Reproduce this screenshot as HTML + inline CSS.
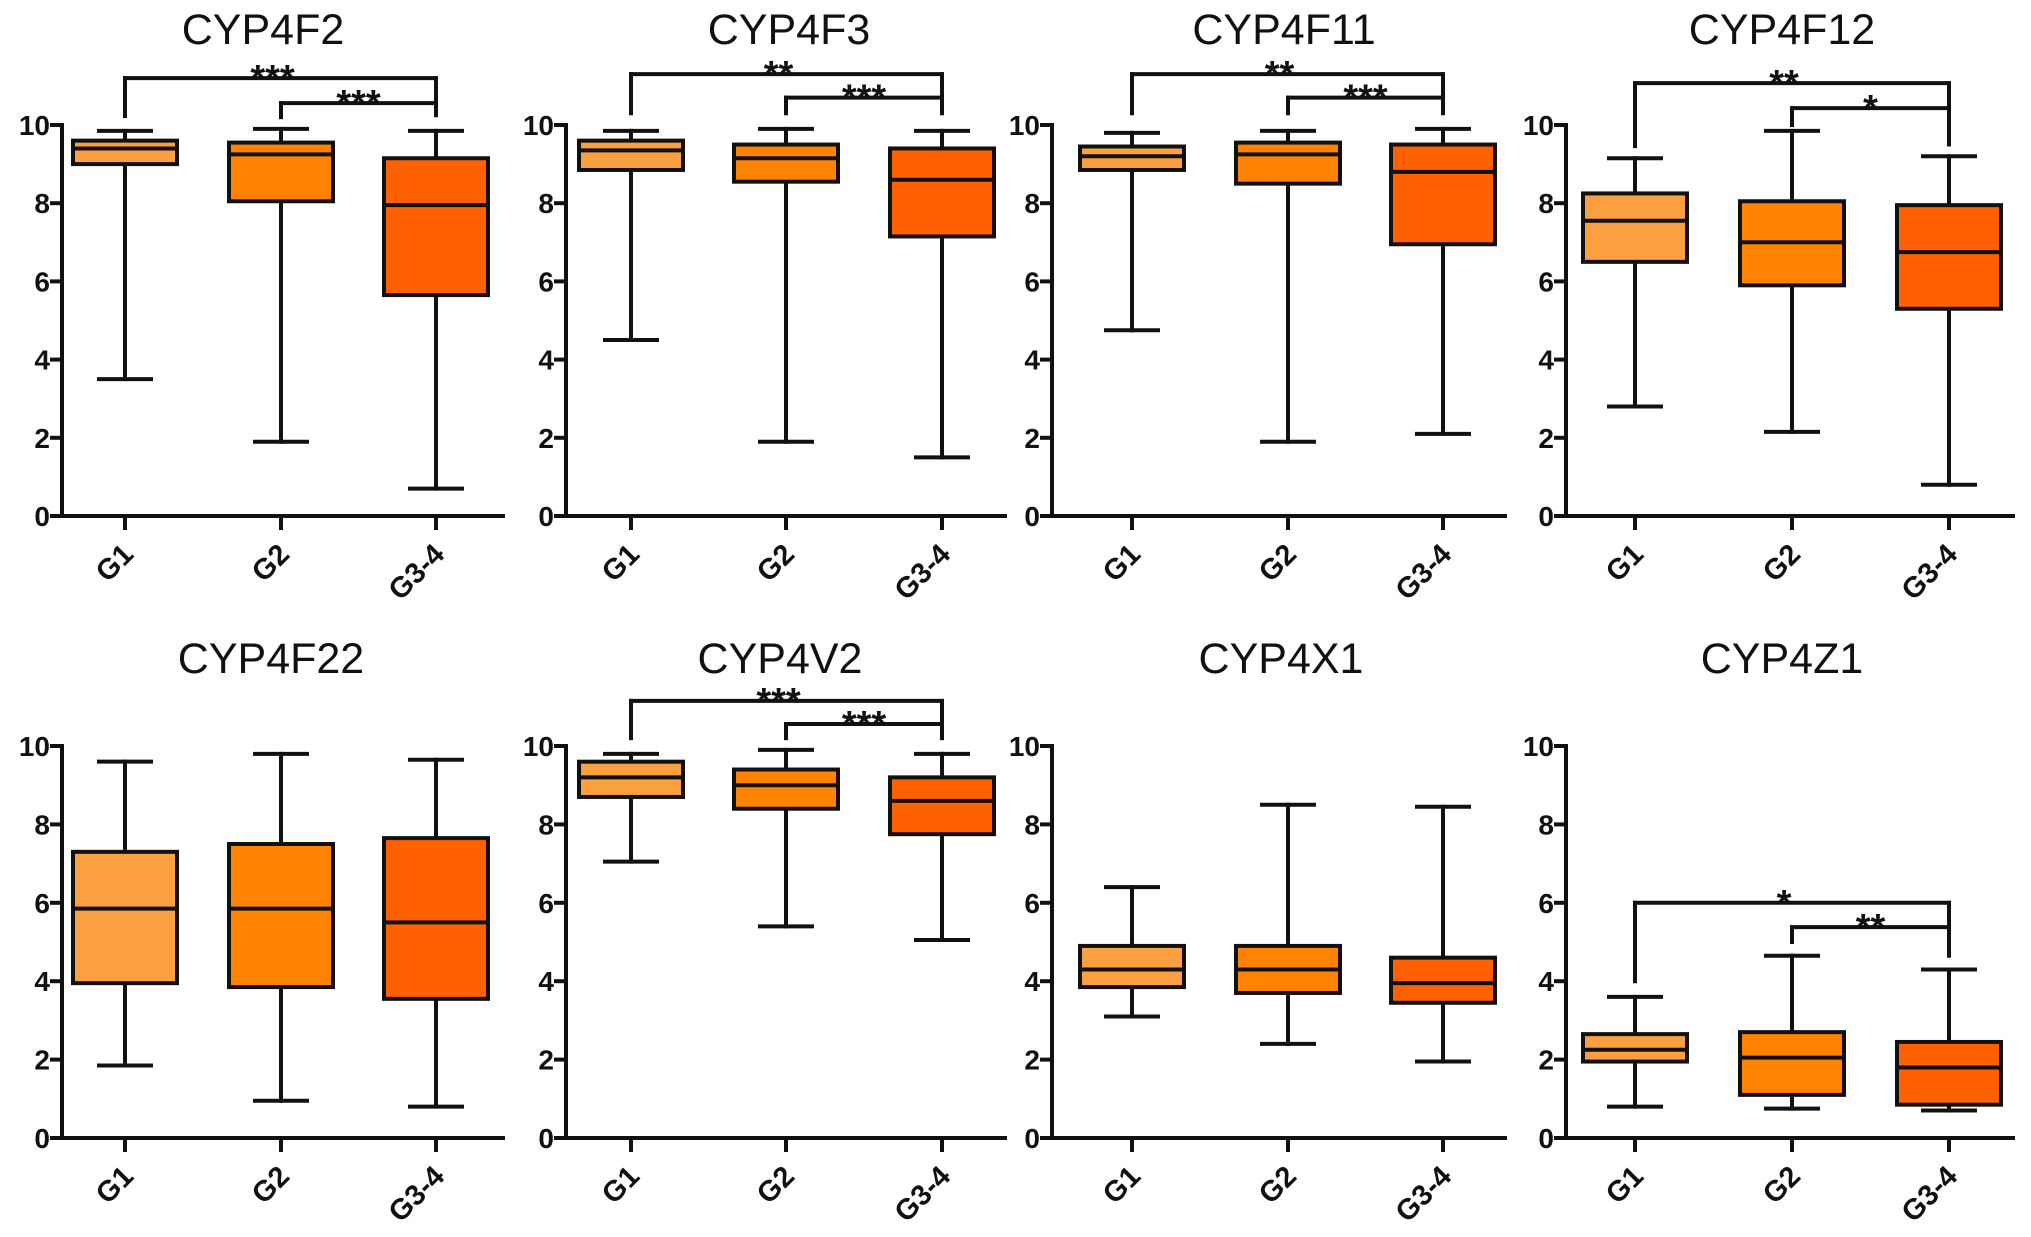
<!DOCTYPE html>
<html><head><meta charset="utf-8"><style>
html,body{margin:0;padding:0;background:#fff;}
svg{display:block;}
text{font-family:"Liberation Sans",Arial,sans-serif;}
</style></head><body>
<svg id="fig" width="2031" height="1237" viewBox="0 0 2031 1237" xmlns="http://www.w3.org/2000/svg"></svg>
<script>
// ---- data ----
const titles = ["CYP4F2","CYP4F3","CYP4F11","CYP4F12","CYP4F22","CYP4V2","CYP4X1","CYP4Z1"];
const categories = ["G1","G2","G3-4"];
const yTicks = [0,2,4,6,8,10];
// [min, q1, median, q3, max] per group
const cyp4f2  = [[3.5,9.0,9.4,9.6,9.85],[1.9,8.05,9.25,9.55,9.9],[0.7,5.65,7.95,9.15,9.85]];
const cyp4f3  = [[4.5,8.85,9.35,9.6,9.85],[1.9,8.55,9.15,9.5,9.9],[1.5,7.15,8.6,9.4,9.85]];
const cyp4f11 = [[4.75,8.85,9.2,9.45,9.8],[1.9,8.5,9.25,9.55,9.85],[2.1,6.95,8.8,9.5,9.9]];
const cyp4f12 = [[2.8,6.5,7.55,8.25,9.15],[2.15,5.9,7.0,8.05,9.85],[0.8,5.3,6.75,7.95,9.2]];
const cyp4f22 = [[1.85,3.95,5.85,7.3,9.6],[0.95,3.85,5.85,7.5,9.8],[0.8,3.55,5.5,7.65,9.65]];
const cyp4v2  = [[7.05,8.7,9.2,9.6,9.8],[5.4,8.4,9.0,9.4,9.9],[5.05,7.75,8.6,9.2,9.8]];
const cyp4x1  = [[3.1,3.85,4.3,4.9,6.4],[2.4,3.7,4.3,4.9,8.5],[1.95,3.45,3.95,4.6,8.45]];
const cyp4z1  = [[0.8,1.95,2.25,2.65,3.6],[0.75,1.1,2.05,2.7,4.65],[0.7,0.85,1.8,2.45,4.3]];
const seriesList = [cyp4f2,cyp4f3,cyp4f11,cyp4f12,cyp4f22,cyp4v2,cyp4x1,cyp4z1];
const sig1Labels = ["***","**","**","**",null,"***",null,"*"];
const sig1Levels = [11.2,11.3,11.3,11.07,null,11.15,null,6.0];
const sig2Labels = ["***","***","***","*",null,"***",null,"**"];
const sig2Levels = [10.56,10.7,10.7,10.43,null,10.56,null,5.38];
const dropG1 = [10.23,10.3,10.3,9.46,null,10.2,null,4.0];
const dropG2 = [10.2,10.3,10.3,10.0,null,10.2,null,5.0];
const dropG3 = [10.25,10.3,10.3,9.5,null,10.2,null,4.65];

// ---- layout ----
const colAxisX = [62,566,1052,1566];
const colCenters = [[125,281,436],[631,786,942],[1132,1288,1443],[1635,1792,1949]];
const colEndX = [503,1005,1505,2013];
const titleX = [[263,789,1284,1782],[271,780,1281,1782]];
const rowY10 = [125,746];
const rowY0 = [516,1138];
const colors = ["#FBA040","#FF8200","#FF6000"];
const BOXH = 52, CAPH = 26, LW = 4;

const NS = "http://www.w3.org/2000/svg";
const svg = document.getElementById("fig");
function mk(tag, attrs, parent){
  const e = document.createElementNS(NS, tag);
  for (const k in attrs) e.setAttribute(k, attrs[k]);
  (parent||svg).appendChild(e);
  return e;
}
function line(g,x1,y1,x2,y2,name){
  const l = mk("line",{x1:x1,y1:y1,x2:x2,y2:y2,stroke:"#111","stroke-width":LW,"stroke-linecap":"square"},g);
  
  
  return l;
}

for (let p=0;p<8;p++){
  const row = Math.floor(p/4), col = p%4;
  const y0 = rowY0[row], y10 = rowY10[row];
  const yS = v => y0 - (v/10)*(y0-y10);
  const ax = colAxisX[col], cx = colCenters[col], ex = colEndX[col];
  const g = mk("g",{});
  
  

  const t = mk("text",{x:titleX[row][col],y:row?673:44,"text-anchor":"middle","font-size":43,fill:"#111"},g);
  t.textContent = titles[p];
  
  

  line(g,ax,yS(10),ax,y0,"y-axis");
  line(g,ax,y0,ex,y0,"x-axis");
  yTicks.forEach(v=>{
    const y = yS(v);
    line(g,ax-10,y,ax,y,"y-tick");
    const tl = mk("text",{x:ax-12,y:y+10,"text-anchor":"end","font-size":28,"font-weight":"bold",fill:"#111"},g);
    tl.textContent = v;
    
    
  });
  categories.forEach((c,i)=>{
    line(g,cx[i],y0,cx[i],y0+12,"x-tick");
    const xl = mk("text",{x:cx[i]+10,y:y0+40,"text-anchor":"end","font-size":29,"font-weight":"bold",fill:"#111",transform:`rotate(-45 ${cx[i]+10} ${y0+40})`},g);
    xl.textContent = c;
    
    
  });

  seriesList[p].forEach((d,i)=>{
    const x = cx[i];
    const bg = mk("g",{},g);
    
    
    line(bg,x,yS(d[0]),x,yS(d[1]),"lower-whisker");
    line(bg,x,yS(d[3]),x,yS(d[4]),"upper-whisker");
    line(bg,x-CAPH,yS(d[0]),x+CAPH,yS(d[0]),"min-cap");
    line(bg,x-CAPH,yS(d[4]),x+CAPH,yS(d[4]),"max-cap");
    const r = mk("rect",{x:x-BOXH,y:yS(d[3]),width:2*BOXH,height:yS(d[1])-yS(d[3]),fill:colors[i],stroke:"#111","stroke-width":LW},bg);
    
    
    line(bg,x-BOXH,yS(d[2]),x+BOXH,yS(d[2]),"median-line");
  });

  if (sig1Labels[p]){
    const sg = mk("g",{},g);
    
    
    const b1 = yS(sig1Levels[p]), b2 = yS(sig2Levels[p]);
    line(sg,cx[0],b1,cx[2],b1,"bracket-g1-g34");
    line(sg,cx[0],b1,cx[0],yS(dropG1[p]),"bracket-drop");
    line(sg,cx[2],b1,cx[2],yS(dropG3[p]),"bracket-drop");
    line(sg,cx[1],b2,cx[2],b2,"bracket-g2-g34");
    line(sg,cx[1],b2,cx[1],yS(dropG2[p]),"bracket-drop");
    const s1 = mk("text",{x:(cx[0]+cx[2])/2-8,y:b1+13,"text-anchor":"middle","font-size":38,"font-weight":"bold",fill:"#111"},sg);
    s1.textContent = sig1Labels[p];
    
    
    const s2 = mk("text",{x:(cx[1]+cx[2])/2,y:b2+13,"text-anchor":"middle","font-size":38,"font-weight":"bold",fill:"#111"},sg);
    s2.textContent = sig2Labels[p];
    
    
  }
}
</script>
</body></html>
